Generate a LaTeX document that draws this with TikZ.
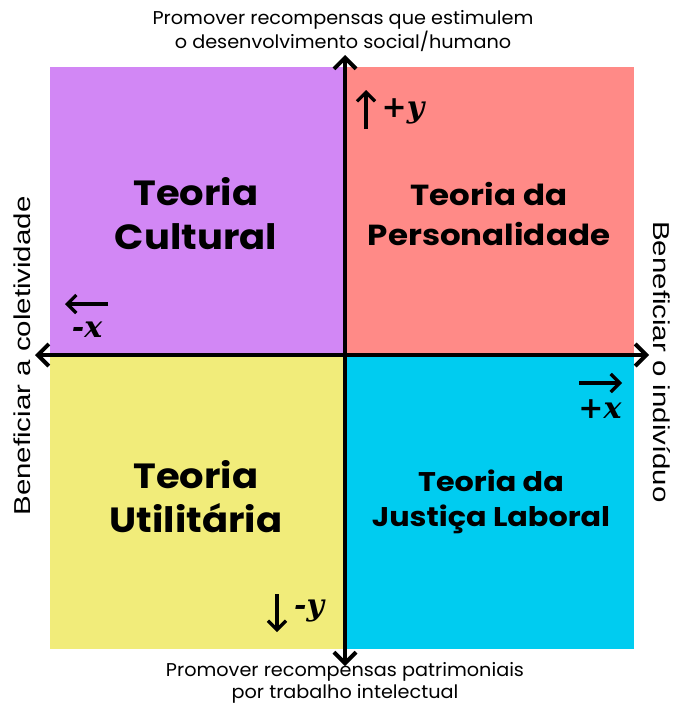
\documentclass[tikz,border=0pt]{standalone}
\usepackage{fontspec}
\setmainfont{Poppins}
\newfontfamily\sidefont{Liberation Sans}
\newfontfamily\mathfont{DejaVu Serif}
\usetikzlibrary{arrows.meta}
\definecolor{qpurple}{HTML}{D287F5}
\definecolor{qred}{HTML}{FF8A87}
\definecolor{qyellow}{HTML}{F1EC7A}
\definecolor{qcyan}{HTML}{00CCF0}
\tikzset{
  title/.style={font=\fontsize{35}{44}\selectfont\bfseries, align=center, text=black, xscale=1.1},
  titlesm/.style={font=\fontsize{29}{40}\selectfont\bfseries, align=center, text=black, xscale=1.12},
  titlejl/.style={font=\fontsize{27}{35}\selectfont\bfseries, align=center, text=black, xscale=1.12},
  side/.style={font=\fontsize{18.5}{22}\selectfont, align=center, text=black, xscale=1.04},
  vside/.style={font=\sidefont\fontsize{23}{26}\selectfont, text=black},
  axis/.style={line width=4pt, -{Straight Barb[length=11pt,width=22pt,line width=4pt]}},
  small/.style={line width=3.2pt, -{Straight Barb[length=9pt,width=18pt,line width=3.2pt]}},
  mlab/.style={font=\mathfont\itshape\bfseries\fontsize{30}{34}\selectfont, text=black, inner sep=0pt}
}
\begin{document}
\begin{tikzpicture}[x=1pt,y=-1pt]
\useasboundingbox[fill=white] (0,0) rectangle (676,704);
\fill[qpurple] (50,67) rectangle (345,355);
\fill[qred] (345,67) rectangle (634,355);
\fill[qyellow] (50,355) rectangle (345,649);
\fill[qcyan] (345,355) rectangle (634,649);
\coordinate (o) at (345,355);
\coordinate (top) at (345,55);
\coordinate (bot) at (345,666);
\coordinate (lft) at (35,355);
\coordinate (rgt) at (649,355);
\draw[axis] (o) -- (top);
\draw[axis] (o) -- (bot);
\draw[axis] (o) -- (lft);
\draw[axis] (o) -- (rgt);
\node[side] (tt) at (343,31) {Promover recompensas que estimulem\\o desenvolvimento social/humano};
\node[side] (bt) at (345,683) {Promover recompensas patrimoniais\\por trabalho intelectual};
\node[vside, rotate=90] (lt) at (22,356) {\scalebox{1.28}[1]{Beneficiar a coletividade}};
\node[vside, rotate=-90] (rt) at (662,362) {\scalebox{1.28}[1]{Beneficiar o indivíduo}};
\node[title] (q1) at (196,214) {Teoria\\Cultural};
\node[titlesm] (q2) at (489,214) {Teoria da\\Personalidade};
\node[title] (q3) at (196,497) {Teoria\\Utilitária};
\node[titlejl] (q4) at (491,502) {Teoria da\\Justiça Laboral};
% small direction arrows
\coordinate (uy0) at (366,129); \coordinate (uy1) at (366,90);
\draw[small] (uy0) -- (uy1);
\node[mlab] (py) at (403,111) {+y};
\coordinate (lx0) at (108,304); \coordinate (lx1) at (65,304);
\draw[small] (lx0) -- (lx1);
\node[mlab] (mx) at (87,330) {-x};
\coordinate (rx0) at (579,383); \coordinate (rx1) at (622,383);
\draw[small] (rx0) -- (rx1);
\node[mlab] (px) at (600,409) {+x};
\coordinate (dy0) at (277,594); \coordinate (dy1) at (277,632);
\draw[small] (dy0) -- (dy1);
\node[mlab] (my) at (309,611) {-y};
\end{tikzpicture}
\end{document}
